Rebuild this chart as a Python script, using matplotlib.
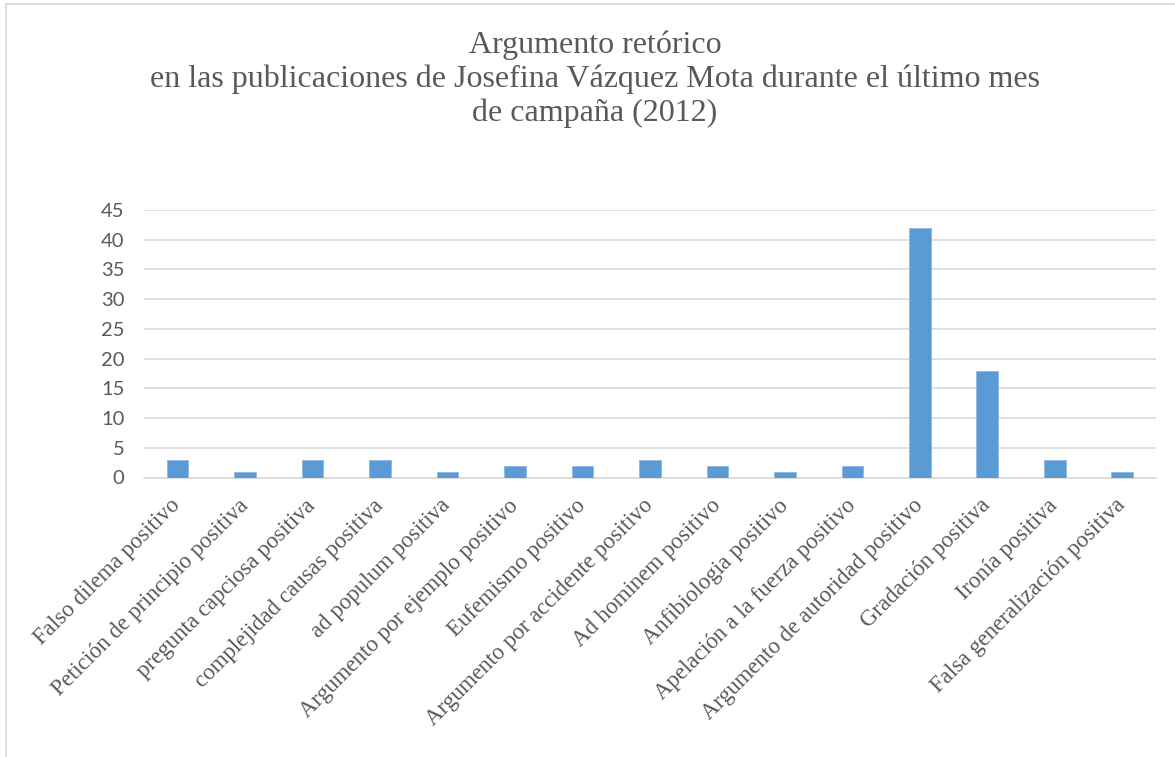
import matplotlib
matplotlib.use("Agg")
import matplotlib.pyplot as plt
from matplotlib.patches import Rectangle

categories = [
    "Falso dilema positivo",
    "Petición de principio positiva",
    "pregunta capciosa positiva",
    "complejidad causas positiva",
    "ad populum positiva",
    "Argumento por ejemplo positivo",
    "Eufemismo positivo",
    "Argumento por accidente positivo",
    "Ad hominem positivo",
    "Anfibiologia positivo",
    "Apelación a la fuerza positivo",
    "Argumento de autoridad positivo",
    "Gradación positiva",
    "Ironía positiva",
    "Falsa generalización positiva",
]
values = [3, 1, 3, 3, 1, 2, 2, 3, 2, 1, 2, 42, 18, 3, 1]
yticks = [0, 5, 10, 15, 20, 25, 30, 35, 40, 45]
title = ("Argumento retórico\n"
         "en las publicaciones de Josefina Vázquez Mota durante el último mes\n"
         "de campaña (2012)")

W, H = 1175, 757
fig = plt.figure(figsize=(W / 100, H / 100), dpi=100)
fig.patch.set_facecolor("white")

# chart border
fig.patches.append(Rectangle((6 / W, -0.05), 1.2, 1 - 3.5 / H + 0.05,
                             transform=fig.transFigure, fill=False,
                             edgecolor="#D9D9D9", linewidth=1.2))

ax = fig.add_axes([143.75 / W, 1 - 477.5 / H, (1156 - 143.75) / W, (477.5 - 210) / H])
x = list(range(len(categories)))
ax.bar(x, values, width=0.32, color="#5B9BD5", edgecolor="#8DB7E3", linewidth=0.6, zorder=3)
ax.set_xlim(-0.5, len(categories) - 0.5)
ax.set_ylim(0, 45)
ax.set_yticks(yticks)
ax.set_yticklabels([str(t) for t in yticks], fontsize=14.5, color="#595959", family="Lato")
ax.set_xticks(x)
ax.set_xticklabels(categories, rotation=45, ha="right", va="center", rotation_mode="anchor",
                   fontsize=16.5, color="#595959", family="Liberation Serif")
ax.tick_params(axis="both", length=0)
ax.tick_params(axis="x", pad=18)
ax.tick_params(axis="y", pad=14)
ax.grid(axis="y", color="#D9D9D9", linewidth=1.2, zorder=0)
for s in ["top", "right", "left"]:
    ax.spines[s].set_visible(False)
ax.spines["bottom"].set_color("#D9D9D9")
ax.spines["bottom"].set_linewidth(1.2)

fig.text(595 / W, 1 - 79 / H, title, ha="center", va="center", fontsize=23,
         color="#595959", family="Liberation Serif", linespacing=1.2)

fig.savefig("out.png", dpi=100)
